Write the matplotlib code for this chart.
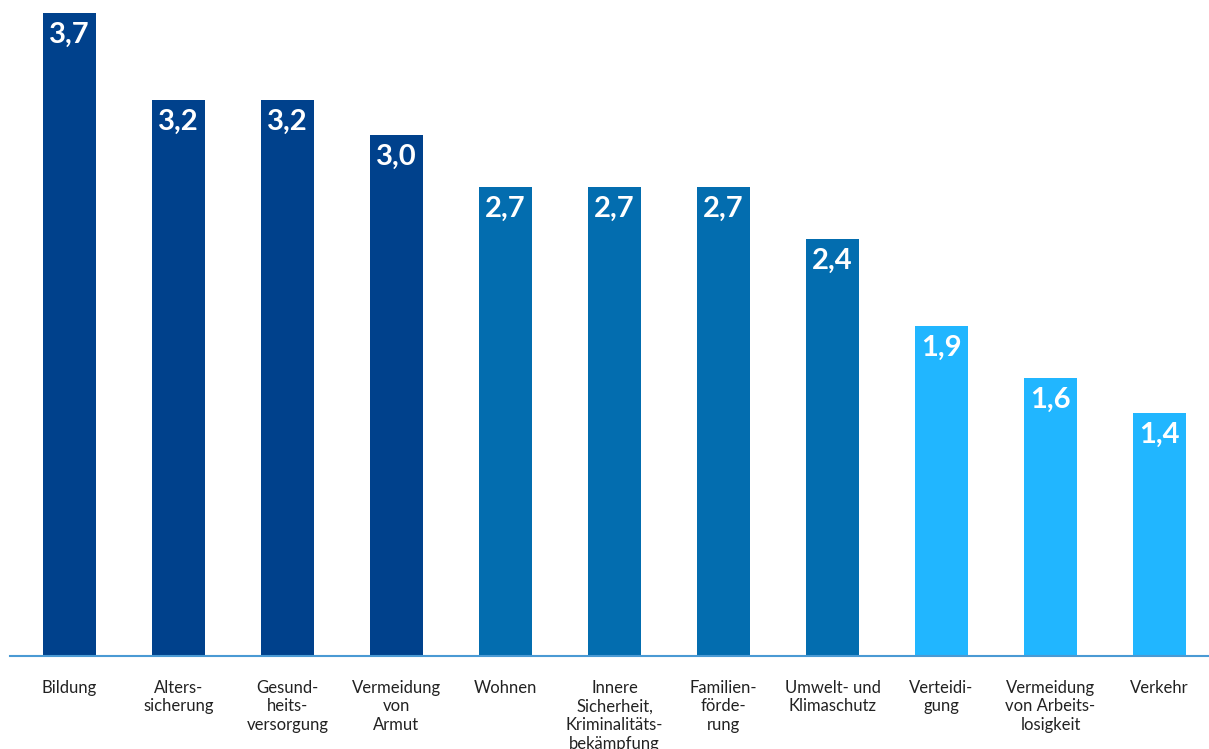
import numpy as np
import matplotlib.pyplot as plt

plt.rcParams['font.family'] = ['Lato', 'DejaVu Sans']

categories = ['Bildung', 'Alters-\nsicherung', 'Gesund-\nheits-\nversorgung', 'Vermeidung\nvon\nArmut',
              'Wohnen', 'Innere\nSicherheit,\nKriminalitäts-\nbekämpfung', 'Familien-\nförde-\nrung',
              'Umwelt- und\nKlimaschutz', 'Verteidi-\ngung', 'Vermeidung\nvon Arbeits-\nlosigkeit', 'Verkehr']
values = [3.7, 3.2, 3.2, 3.0, 2.7, 2.7, 2.7, 2.4, 1.9, 1.6, 1.4]
groups = [0, 0, 0, 0, 1, 1, 1, 1, 2, 2, 2]
palette = ['#00418C', '#036DAF', '#21B6FF']

W, H = 1209, 749
fig = plt.figure(figsize=(W / 100, H / 100), dpi=100)
ax = fig.add_axes([10 / W, (H - 656) / H, 1199 / W, (656 - 13) / H])

x = np.arange(len(values))
bars = ax.bar(x, values, width=0.486, color=[palette[g] for g in groups])
for xi, v in zip(x, values):
    ax.annotate(f'{v:.1f}'.replace('.', ','), (xi, v), xytext=(0, -22), textcoords='offset pixels',
                ha='center', va='center', color='white', fontsize=21, fontweight='bold')

ax.set_xlim(-0.546, 10.454)
ax.set_ylim(0, 3.7)
ax.set_xticks(x)
ax.set_xticklabels(categories, fontsize=12, color='#222222', linespacing=1.22, va='top')
ax.tick_params(axis='x', length=0, pad=17)
ax.set_yticks([])
for s in ['top', 'right', 'left']:
    ax.spines[s].set_visible(False)
ax.spines['bottom'].set_color('#4A9AD4')
ax.spines['bottom'].set_linewidth(1.5)

fig.savefig('out.png', dpi=100)
